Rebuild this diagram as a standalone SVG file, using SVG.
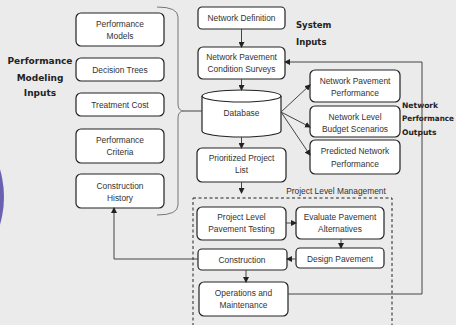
<svg xmlns="http://www.w3.org/2000/svg" width="456" height="325" viewBox="0 0 456 325">
<defs>
<marker id="ah" markerWidth="6" markerHeight="6" refX="5" refY="3" orient="auto" markerUnits="userSpaceOnUse">
<path d="M0,0 L6,3 L0,6 Z" fill="#222"/>
</marker>
<style>
.bx{fill:#fff;stroke:#222;stroke-width:1.2}
.t{font-family:"Liberation Sans",Arial,sans-serif;font-size:8.4px;fill:#333;text-anchor:middle}
.h{font-family:"DejaVu Sans",sans-serif;font-weight:bold;fill:#222}
.c{fill:none;stroke:#444;stroke-width:1}
.ca{fill:none;stroke:#444;stroke-width:1;marker-end:url(#ah)}
</style>
</defs>
<rect width="456" height="325" fill="#ebebeb"/>
<circle cx="-94" cy="197" r="98" fill="#6a62b0"/>

<g id="label-modeling" class="h" font-size="9" text-anchor="middle">
<text x="40" y="64">Performance</text>
<text x="40" y="81">Modeling</text>
<text x="40" y="96">Inputs</text>
</g>
<g id="label-system" class="h" font-size="8.5">
<text x="296" y="28">System</text>
<text x="296" y="45">Inputs</text>
</g>
<g id="label-outputs" class="h" font-size="7.6">
<text x="402" y="108">Network</text>
<text x="402" y="121" textLength="52" lengthAdjust="spacingAndGlyphs">Performance</text>
<text x="402" y="135">Outputs</text>
</g>

<g id="n-perf-models"><rect class="bx" x="76" y="13" width="88" height="33" rx="5"/><text class="t" x="120" y="27">Performance</text><text class="t" x="120" y="39">Models</text></g>
<g id="n-decision-trees"><rect class="bx" x="76" y="58" width="88" height="23" rx="5"/><text class="t" x="120" y="72.5">Decision Trees</text></g>
<g id="n-treatment-cost"><rect class="bx" x="76" y="93" width="88" height="23" rx="5"/><text class="t" x="120" y="107.5">Treatment Cost</text></g>
<g id="n-perf-criteria"><rect class="bx" x="76" y="129" width="88" height="34" rx="5"/><text class="t" x="120" y="143">Performance</text><text class="t" x="120" y="155">Criteria</text></g>
<g id="n-construction-history"><rect class="bx" x="76" y="174" width="88" height="34" rx="5"/><text class="t" x="120" y="189">Construction</text><text class="t" x="120" y="201">History</text></g>

<g id="n-network-definition"><rect class="bx" x="198" y="7" width="87" height="22" rx="4"/><text class="t" x="241.5" y="21">Network Definition</text></g>
<g id="n-condition-surveys"><rect class="bx" x="198" y="47" width="87" height="32" rx="5"/><text class="t" x="241.5" y="60">Network Pavement</text><text class="t" x="241.5" y="72">Condition Surveys</text></g>
<g id="n-database">
<path class="bx" d="M202,96 L202,131 A39.5,6 0 0 0 281,131 L281,96"/>
<ellipse class="bx" cx="241.5" cy="96" rx="39.5" ry="6"/>
<text class="t" x="241.5" y="116">Database</text>
</g>
<g id="n-prioritized"><rect class="bx" x="197" y="148" width="89" height="34" rx="5"/><text class="t" x="241.5" y="161">Prioritized Project</text><text class="t" x="241.5" y="173">List</text></g>

<g id="n-net-pav-perf"><rect class="bx" x="310" y="70" width="90" height="32" rx="5"/><text class="t" x="355" y="84">Network Pavement</text><text class="t" x="355" y="96">Performance</text></g>
<g id="n-budget"><rect class="bx" x="310" y="106" width="90" height="31" rx="5"/><text class="t" x="355" y="120">Network Level</text><text class="t" x="355" y="132">Budget Scenarios</text></g>
<g id="n-predicted"><rect class="bx" x="310" y="140" width="90" height="34" rx="5"/><text class="t" x="355" y="154">Predicted Network</text><text class="t" x="355" y="167">Performance</text></g>

<g id="n-project-level">
<rect x="193" y="198" width="199" height="140" fill="none" stroke="#222" stroke-width="1" stroke-dasharray="3,2.5"/>
<text class="t" x="336" y="194">Project Level Management</text>
</g>
<g id="n-testing"><rect class="bx" x="197" y="207" width="89" height="33" rx="5"/><text class="t" x="241.5" y="220">Project Level</text><text class="t" x="241.5" y="232">Pavement Testing</text></g>
<g id="n-evaluate"><rect class="bx" x="296" y="207" width="88" height="32" rx="5"/><text class="t" x="340" y="220">Evaluate Pavement</text><text class="t" x="340" y="232">Alternatives</text></g>
<g id="n-design"><rect class="bx" x="296" y="248" width="88" height="20" rx="4"/><text class="t" x="340" y="261.5">Design Pavement</text></g>
<g id="n-construction"><rect class="bx" x="198" y="249" width="89" height="21" rx="4"/><text class="t" x="242" y="262.5">Construction</text></g>
<g id="n-operations"><rect class="bx" x="199" y="282" width="89" height="34" rx="5"/><text class="t" x="243.5" y="296">Operations and</text><text class="t" x="243.5" y="308">Maintenance</text></g>

<g id="connectors">
<path d="M157,7 Q178,7 178,17 L178,104 Q178,111 184,111 Q178,111 178,118 L178,205 Q178,215 157,215" fill="none" stroke="#777" stroke-width="1"/>
<path class="c" d="M184,111 L202,111"/>
<path class="ca" d="M241.5,29 L241.5,47"/>
<path class="ca" d="M241.5,79 L241.5,90"/>
<path class="ca" d="M241.5,137 L241.5,148"/>
<path class="ca" d="M281,112 L310,85"/>
<path class="ca" d="M281,112 L310,127"/>
<path class="ca" d="M281,112 L310,155"/>
<path class="ca" d="M241.5,182 L241.5,193"/>
<path class="ca" d="M286,223 L296,223"/>
<path class="ca" d="M341,239 L341,248"/>
<path class="ca" d="M296,259 L287,259"/>
<path class="ca" d="M246,270 L246,282"/>
<path class="ca" d="M198,259 L114,259 L114,208"/>
<path class="ca" d="M288,294 L422,294 L422,62 L285,62"/>
</g>
</svg>
